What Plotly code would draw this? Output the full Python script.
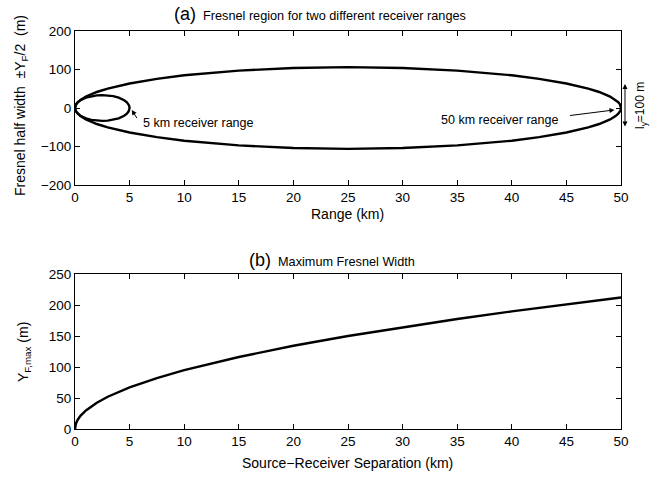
import plotly.graph_objects as go

# ---- data ----
# (a) 50 km receiver range: upper half of the Fresnel region (m)
x50 = [0, 0.05, 0.1, 0.25, 0.5, 1, 2, 3, 5, 7.5, 10, 15, 20, 25, 30, 35, 40, 42.5, 45, 47, 48, 49, 49.5, 49.75, 49.9, 49.95, 50]
y50 = [0, 6.7, 9.5, 15.0, 21.1, 29.7, 41.6, 50.4, 63.6, 75.7, 84.9, 97.2, 103.9, 106.1, 103.9, 97.2, 84.9, 75.7, 63.6, 50.4, 41.6, 29.7, 21.1, 15.0, 9.5, 6.7, 0]
# (a) 5 km receiver range: upper half (m)
x5 = [0, 0.05, 0.1, 0.25, 0.5, 1, 1.5, 2, 2.5, 3, 3.5, 4, 4.5, 4.75, 4.9, 4.95, 5]
y5 = [0, 6.7, 9.4, 14.6, 20.1, 26.8, 30.7, 32.9, 33.5, 32.9, 30.7, 26.8, 20.1, 14.6, 9.4, 6.7, 0]
# (b) maximum Fresnel width vs separation
xsep = [0, 0.05, 0.1, 0.25, 0.5, 1, 2, 3, 5, 7.5, 10, 15, 20, 25, 30, 35, 40, 45, 50]
yfmax = [0, 6.7, 9.5, 15.0, 21.2, 30.0, 42.4, 52.0, 67.1, 82.2, 94.9, 116.2, 134.2, 150.0, 164.3, 177.5, 189.7, 201.2, 212.1]

xticks = [0, 5, 10, 15, 20, 25, 30, 35, 40, 45, 50]
yticks_a = [-200, -100, 0, 100, 200]
yticks_b = [0, 50, 100, 150, 200, 250]

W, H = 667, 477
def px(x):
    return x / W
def py(y):
    return 1 - y / H

fig = go.Figure()
line = dict(color="black", width=2.4)

def closed(xs, ys):
    return xs + xs[::-1], ys + [-v for v in ys[::-1]]

cx, cy = closed(x50, y50)
fig.add_trace(go.Scatter(x=cx, y=cy, mode="lines", line=line, xaxis="x", yaxis="y", showlegend=False, hoverinfo="skip"))
cx, cy = closed(x5, y5)
fig.add_trace(go.Scatter(x=cx, y=cy, mode="lines", line=line, xaxis="x", yaxis="y", showlegend=False, hoverinfo="skip"))
fig.add_trace(go.Scatter(x=xsep, y=yfmax, mode="lines", line=line, xaxis="x2", yaxis="y2", showlegend=False, hoverinfo="skip"))

FAM = "Liberation Sans, Arial, sans-serif"
font = dict(family=FAM, color="black")
tickfont = dict(family=FAM, color="black", size=13.5)
common = dict(showgrid=False, zeroline=False, showline=True, linecolor="black", linewidth=1,
              mirror="ticks", ticks="inside", ticklen=5, tickcolor="black", tickwidth=1,
              tickfont=tickfont)
xdom = [px(75), px(621)]
fig.update_layout(
    width=W, height=H, margin=dict(l=0, r=0, t=0, b=0, autoexpand=False),
    paper_bgcolor="white", plot_bgcolor="white", font=font,
    xaxis=dict(domain=xdom, range=[0, 50], tickvals=xticks, anchor="y", **common),
    yaxis=dict(domain=[py(185), py(31)], range=[-200, 200], tickvals=yticks_a, anchor="x", **common),
    xaxis2=dict(domain=xdom, range=[0, 50], tickvals=xticks, anchor="y2", **common),
    yaxis2=dict(domain=[py(429), py(274)], range=[0, 250], tickvals=yticks_b, anchor="x2", **common),
)

ann = []
def paper_text(text, x, y, size=13, angle=0, xanchor="center"):
    ann.append(dict(text=text, x=px(x), y=py(y), xref="paper", yref="paper", showarrow=False,
                    font=dict(size=size, family=FAM, color="black"),
                    textangle=angle, xanchor=xanchor, yanchor="middle"))

paper_text("<span style='font-size:18px'>(a)</span>  Fresnel region for two different receiver ranges", 172, 14, size=12.7, xanchor="left")
paper_text("Range (km)", 347, 214, size=14)
paper_text("Fresnel half width  ±Y<sub>F</sub>/2  (m)", 21, 106, size=14, angle=-90)
paper_text("<span style='font-size:18px'>(b)</span>  Maximum Fresnel Width", 247, 260, size=12.7, xanchor="left")
paper_text("Source−Receiver Separation (km)", 347, 463, size=14)
paper_text("Y<sub>F,max</sub> (m)", 24, 352, size=14, angle=-90)

# data-coordinate annotations
ann.append(dict(text="5 km receiver range", x=6.0, y=-38, xref="x", yref="y", xanchor="left", yanchor="middle",
                showarrow=False, font=dict(size=12.5, family=FAM, color="black")))
ann.append(dict(text="", x=5.2, y=-5, ax=5.75, ay=-30, xref="x", yref="y", axref="x", ayref="y",
                showarrow=True, arrowhead=2, arrowsize=1, arrowwidth=1, arrowcolor="black"))
ann.append(dict(text="50 km receiver range", x=44.4, y=-31, xref="x", yref="y", xanchor="right", yanchor="middle",
                showarrow=False, font=dict(size=12.5, family=FAM, color="black")))
ann.append(dict(text="", x=49.4, y=-5, ax=45.2, ay=-20, xref="x", yref="y", axref="x", ayref="y",
                showarrow=True, arrowhead=2, arrowsize=1, arrowwidth=1, arrowcolor="black"))
# l_y double arrow (outside the plot area, so in paper coordinates)
ann.append(dict(text="", x=px(625), y=py(84), ax=0, ay=44, xref="paper", yref="paper", axref="pixel", ayref="pixel",
                showarrow=True, arrowhead=2, arrowside="end+start", arrowsize=1, arrowwidth=1, arrowcolor="black"))
ann.append(dict(text="l<sub>y</sub>=100 m", x=px(641), y=py(106), xref="paper", yref="paper", showarrow=False,
                xanchor="center", yanchor="middle",
                textangle=-90, font=dict(size=12, family=FAM, color="black")))
fig.update_layout(annotations=ann)

fig.write_html("out.html")
